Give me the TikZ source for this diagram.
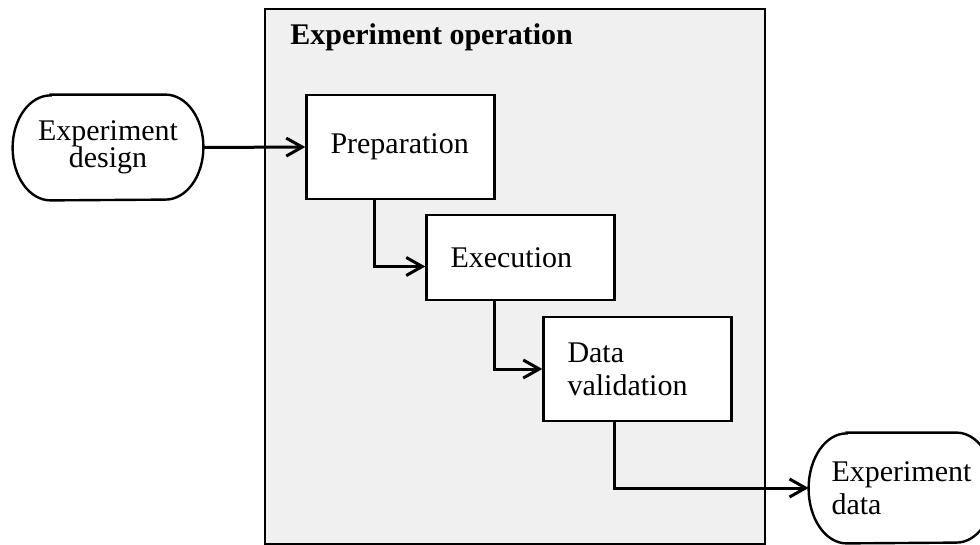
\documentclass[tikz,border=0pt]{standalone}
\usepackage{fontspec}
\setmainfont{Liberation Serif}
\usetikzlibrary{arrows.meta}

\tikzset{
  txt/.style={font=\fontsize{15}{16.5}\selectfont},
  stage/.style={txt, draw, fill=white, line width=1.2pt, inner xsep=12pt,
                text width=70pt, align=left, minimum height=52pt},
  term/.style={txt, fill=white, minimum width=95pt, minimum height=52.5pt},
  flow/.style={line width=1.5pt, -{Straight Barb[length=8pt,width=9pt,line width=1.5pt]}},
}
% capsule outline with elliptic ends round a terminal node
\newcommand{\capsule}[1]{%
  \draw[line width=1.2pt] ([xshift=19pt]#1.north west) -- ([xshift=-19pt]#1.north east)
    arc[start angle=90, end angle=-90, x radius=19pt, y radius={0.5*(\pgfkeysvalueof{/pgf/minimum height})}]
    -- ([xshift=19pt]#1.south west)
    arc[start angle=270, end angle=90, x radius=19pt, y radius={0.5*(\pgfkeysvalueof{/pgf/minimum height})}]
    -- cycle;}

\begin{document}
\begin{tikzpicture}[x=0.5pt,y=-0.5pt]
  \useasboundingbox (0,0) rectangle (980,545);

  % operation frame
  \node[draw, fill=gray!12, line width=1.3pt, minimum width=250pt,
        minimum height=267.5pt] (oper) at (515,276.5) {};
  \node[txt, font=\fontsize{15}{16.5}\selectfont\bfseries, anchor=base west,
        inner sep=0pt] (title) at (290,45) {Experiment operation};

  % stages
  \node[stage] (prep) at (400.5,147) {Preparation};
  \node[stage, minimum height=42.5pt] (exec) at (520.5,257.5) {Execution};
  \node[stage] (valid) at (637.5,369) {Data\\validation};

  % terminals
  \node[term, align=center] (design) at (108,147.5) {Experiment\\[-3pt]design};
  \node[term, align=left, minimum width=92.5pt, minimum height=55pt,
        text width=70pt] (data) at (901.5,488) {Experiment\\data};
  \begin{scope}[minimum height=52.5pt]
    \capsule{design}
  \end{scope}
  \begin{scope}[minimum height=55pt]
    \capsule{data}
  \end{scope}

  % connectors
  \draw[flow] (design.east) -- (prep.west);
  \draw[flow] ([xshift=34.5pt]prep.south west) |- ([yshift=-4.5pt]exec.west);
  \draw[flow] ([xshift=34.5pt]exec.south west) |- (valid.west);
  \draw[flow] ([xshift=36pt]valid.south west) |- (data.west);
\end{tikzpicture}
\end{document}
